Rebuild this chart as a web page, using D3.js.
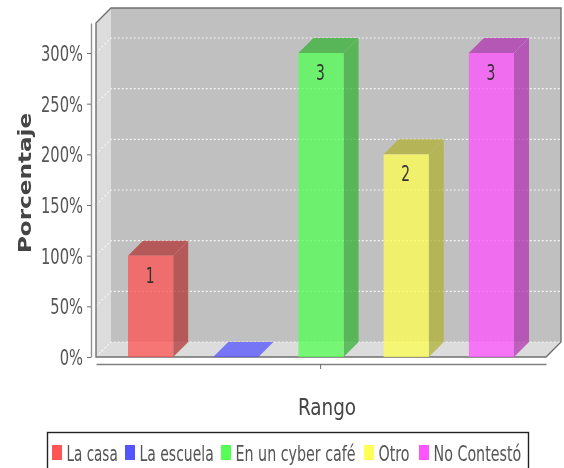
<!DOCTYPE html>
<html>
<head>
<meta charset="utf-8">
<script src="https://cdn.jsdelivr.net/npm/d3@7"></script>
<style>
  html, body { margin: 0; background: #fff; overflow: hidden; }
  svg { display: block; }
</style>
</head>
<body>
<svg id="chart" width="564" height="468"></svg>
<script>
var categories = ["La casa", "La escuela", "En un cyber café", "Otro", "No Contestó"];
var counts = [1, 0, 3, 2, 3];
var colors = ["#ff5555", "#5555ff", "#55ff55", "#ffff55", "#ff55ff"];
var yTicks = [0, 0.5, 1, 1.5, 2, 2.5, 3];

var svg = d3.select("#chart");
var depth = 15,
  left = 96,
  right = 546,
  top3d = 23,
  floor = 357;

var defs = svg.append("defs");
defs.append("filter").attr("id", "soft")
  .append("feGaussianBlur").attr("stdDeviation", 0.5);

var root = svg.append("g").attr("filter", "url(#soft)");

var x = d3.scaleBand().domain(categories).range([128, 514]).paddingInner(0.47);
var y = d3.scaleLinear().domain([0, 3.296]).range([floor, top3d]);

function poly(points) {
  return "M" + points.map(function(p) { return p.join(","); }).join("L") + "Z";
}

// walls
root.append("path")
  .attr("d", poly([[left + depth, top3d - depth], [right + depth, top3d - depth], [right + depth, floor - depth], [left + depth, floor - depth]]))
  .attr("fill", "#c0c0c0");
root.append("path")
  .attr("d", poly([[left, top3d], [left + depth, top3d - depth], [left + depth, floor - depth], [left, floor]]))
  .attr("fill", "#dcdcdc");
root.append("path")
  .attr("d", poly([[left, floor], [left + depth, floor - depth], [right + depth, floor - depth], [right, floor]]))
  .attr("fill", "#dcdcdc");

// gridlines
var grid = root.append("g")
  .attr("fill", "none")
  .attr("stroke", "#f4f4f4")
  .attr("stroke-width", 1.2)
  .attr("stroke-dasharray", "2,2");
yTicks.forEach(function(t) {
  var yy = y(t);
  grid.append("path").attr("d", "M" + left + "," + yy + "L" + (left + depth) + "," + (yy - depth) + "L" + (right + depth) + "," + (yy - depth));
});

// outline
root.append("path")
  .attr("d", poly([[left, top3d], [left + depth, top3d - depth], [right + depth, top3d - depth], [right + depth, floor - depth], [right, floor], [left, floor]]))
  .attr("fill", "none")
  .attr("stroke", "#707070")
  .attr("stroke-width", 1.4);

// bars
var bars = root.selectAll(".bar")
  .data(categories)
  .enter()
  .append("g")
  .attr("class", "bar")
  .attr("opacity", 0.77);

bars.each(function(name, i) {
  var g = d3.select(this),
    x0 = x(name),
    x1 = x0 + x.bandwidth(),
    yTop = y(counts[i]),
    base = d3.rgb(colors[i]),
    dark = d3.rgb(base.r * 0.7, base.g * 0.7, base.b * 0.7);

  g.append("path")
    .attr("d", poly([[x1, yTop], [x1 + depth, yTop - depth], [x1 + depth, floor - depth], [x1, floor]]))
    .attr("fill", dark);
  g.append("path")
    .attr("d", poly([[x0, yTop], [x0 + depth, yTop - depth], [x1 + depth, yTop - depth], [x1, yTop]]))
    .attr("fill", counts[i] === 0 ? base : dark);
  if (counts[i] > 0) {
    g.append("rect")
      .attr("x", x0)
      .attr("y", yTop)
      .attr("width", x.bandwidth())
      .attr("height", floor - yTop)
      .attr("fill", base);
  }
});

// condensed text helper, the original text is tall and narrow
function label(parent, px, py, str, size, sx, anchor, fill, weight) {
  return parent.append("text")
    .attr("transform", "translate(" + px + "," + py + ") scale(" + sx + ",1)")
    .attr("text-anchor", anchor)
    .attr("font-family", "'DejaVu Sans', sans-serif")
    .attr("font-size", size)
    .attr("font-weight", weight || "normal")
    .attr("fill", fill)
    .text(str);
}

counts.forEach(function(c, i) {
  if (c > 0) {
    label(root, x(categories[i]) + x.bandwidth() / 2 - 0.5, y(c) + 27, c, 21, 0.66, "middle", "#333");
  }
});

// y axis
var yAxis = d3.axisLeft(y)
  .tickValues(yTicks)
  .tickSize(4)
  .tickSizeOuter(0)
  .tickFormat("");
var yG = root.append("g")
  .attr("transform", "translate(91,0)")
  .call(yAxis);
yG.select(".domain").attr("stroke", "#909090").attr("stroke-width", 1.4);
yG.selectAll(".tick line").attr("stroke", "#707070");
yTicks.forEach(function(t) {
  label(root, 83, y(t) + 8, (t * 100) + "%", 21, 0.7, "end", "#555");
});

// x axis
var xAxisScale = d3.scaleLinear().domain([0, 1]).range([left, right]);
var xG = root.append("g")
  .attr("transform", "translate(0,364)")
  .call(d3.axisBottom(xAxisScale).tickValues([0.498]).tickSize(5).tickSizeOuter(0).tickFormat(""));
xG.select(".domain").attr("stroke", "#808080").attr("stroke-width", 1.4);
xG.selectAll(".tick line").attr("stroke", "#707070");

// axis titles
label(root, 0, 0, "Porcentaje", 17.5, 1, "middle", "#444", "bold")
  .attr("transform", "translate(31,183) rotate(-90) scale(1.32,1)");
label(root, 327, 415, "Rango", 23, 0.8, "middle", "#444");

// legend, its bottom edge falls off the picture
var legend = root.append("g");
legend.append("rect")
  .attr("x", 47.5).attr("y", 432.5)
  .attr("width", 481).attr("height", 50)
  .attr("fill", "#fff").attr("stroke", "#222").attr("stroke-width", 1.4);
var swatchX = [52, 125, 221, 364, 419];
var legendStretch = [0.645, 0.665, 0.68, 0.68, 0.68];
categories.forEach(function(name, i) {
  legend.append("rect")
    .attr("x", swatchX[i]).attr("y", 445)
    .attr("width", 10).attr("height", 15)
    .attr("fill", colors[i]);
  label(legend, swatchX[i] + 14.5, 461, name, 21, legendStretch[i], "start", "#555");
});
</script>
</body>
</html>
